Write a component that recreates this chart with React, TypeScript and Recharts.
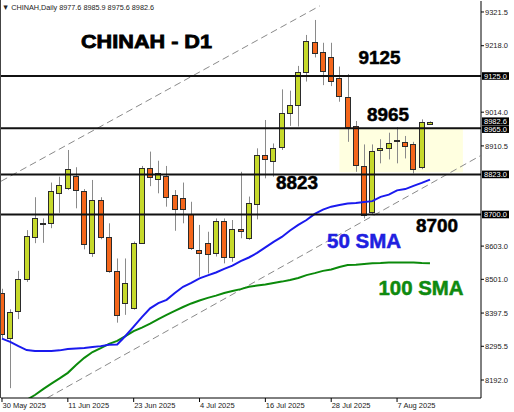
import React from 'react';
import { ComposedChart, Bar, Line, XAxis, YAxis, ReferenceLine, ReferenceArea } from 'recharts';

// daily OHLC, 30 May 2025 .. 13 Aug 2025
const opens = [8460, 8320, 8405, 8503, 8631, 8673, 8673, 8767, 8780, 8819, 8772, 8581, 8745, 8632, 8527, 8429, 8412, 8613, 8842, 8808, 8818, 8760, 8750, 8701, 8591, 8612, 8583, 8680, 8571, 8656, 8627, 8732, 8883, 8865, 8908, 9011, 9036, 9138, 9228, 9198, 9184, 9118, 9062, 8972, 8849, 8709, 8898, 8905, 8926, 8923, 8916, 8845, 8977.6];
const highs = [8472, 8409, 8527, 8652, 8753, 8688, 8798, 8816, 8898, 8845, 8778, 8806, 8753, 8673, 8565, 8565, 8617, 8849, 8893, 8865, 8849, 8775, 8798, 8739, 8668, 8647, 8688, 8688, 8683, 8831, 8755, 8903, 8990, 8918, 9084, 9080, 9156, 9251, 9297, 9227, 9227, 9154, 9131, 8987, 8915, 8915, 8931, 8951, 8968, 8941, 8923, 8992, 8985.9];
const lows = [8318, 8167, 8379, 8493, 8612, 8613, 8658, 8705, 8775, 8719, 8593, 8570, 8624, 8521, 8368, 8392, 8408, 8610, 8787, 8765, 8724, 8650, 8673, 8591, 8509, 8519, 8571, 8550, 8555, 8627, 8622, 8685, 8811, 8816, 8898, 8972, 8970, 9108, 9182, 9097, 9094, 9046, 8923, 8831, 8688, 8698, 8857, 8869, 8857, 8872, 8826, 8839, 8975.6];
const closes = [8333, 8402, 8501, 8634, 8690, 8674, 8772, 8791, 8840, 8775, 8609, 8745, 8632, 8527, 8392, 8491, 8613, 8842, 8816, 8828, 8753, 8717, 8716, 8596, 8581, 8579, 8680, 8571, 8655, 8650, 8734, 8883, 8869, 8903, 9011, 9036, 9138, 9233, 9195, 9141, 9111, 9065, 8968, 8852, 8698, 8895, 8903, 8920, 8930, 8910, 8839, 8985, 8982.6];

const sma50 = [8319, 8309, 8296, 8284, 8281, 8281, 8281, 8283, 8287, 8289, 8290, 8293, 8296, 8300, 8301, 8327, 8356, 8385, 8412, 8428, 8438, 8459, 8478, 8490, 8504, 8513, 8522, 8533, 8543, 8557, 8568, 8582, 8599, 8616, 8631, 8651, 8668, 8683, 8702, 8715, 8724, 8729, 8734, 8735, 8738, 8741, 8754, 8761, 8774, 8778, 8788, 8797, 8807];
const sma100 = [8082, 8098, 8115, 8131, 8146, 8164, 8181, 8197, 8214, 8238, 8260, 8278, 8290, 8303, 8312, 8327, 8342, 8353, 8365, 8379, 8392, 8404, 8416, 8427, 8436, 8444, 8451, 8459, 8465, 8471, 8478, 8482, 8485, 8490, 8494, 8499, 8505, 8514, 8520, 8527, 8531, 8539, 8545, 8546, 8548, 8550, 8551, 8553, 8553, 8553, 8553, 8551, 8550];

const tickBars = [0, 8, 16, 24, 32, 40, 48];
const tickLabels = ['30 May 2025', '11 Jun 2025', '23 Jun 2025', '4 Jul 2025', '16 Jul 2025', '28 Jul 2025', '7 Aug 2025'];
const priceTicks = [9321.5, 9218.0, 9014.0, 8910.5, 8603.0, 8501.0, 8397.5, 8295.5, 8192.0];
const levels = [9125, 8965, 8823, 8700];
const lastPrice = 8982.6;
const zoneBars = [41, 56];
const zonePrices = [8830, 8965];
const upperChannel = [{ x: -0.12, y: 8802 }, { x: 38.6, y: 9340 }];
const lowerChannel = [{ x: 5.5, y: 8137 }, { x: 58.1, y: 8880 }];

const data = opens.map((o, i) => ({
  i,
  o,
  h: highs[i],
  l: lows[i],
  c: closes[i],
  range: [lows[i], highs[i]],
  sma50: sma50[i],
  sma100: sma100[i],
}));

const FONT = '"Liberation Sans", Arial, sans-serif';
const BULL = '#c6d92b';
const BEAR = '#f4661b';

const Candle = (props: any) => {
  const { x, y, width, height, payload } = props;
  if (!payload) return null;
  const top = Math.min(y, y + height);
  const bot = Math.max(y, y + height);
  const span = payload.h - payload.l || 1;
  const py = (v: number) => top + ((payload.h - v) / span) * (bot - top);
  const cx = Math.round(x + width / 2) + 0.5;
  const bTop = Math.round(py(Math.max(payload.o, payload.c))) + 0.5;
  const bBot = Math.max(bTop + 1, Math.round(py(Math.min(payload.o, payload.c))) + 0.5);
  const up = payload.c >= payload.o;
  return (
    <g>
      <line x1={cx} x2={cx} y1={top} y2={bot} stroke="#8a8a8a" strokeWidth={1} />
      <rect x={cx - 3} y={bTop} width={5} height={bBot - bTop} fill={up ? BULL : BEAR} stroke="#2b2b2b" strokeWidth={1} />
    </g>
  );
};

// black price box on the right axis; shift moves it up/down so stacked boxes meet edge to edge
const BoxLabel = (props: any) => {
  const { viewBox, text, shift = 0 } = props;
  if (!viewBox) return null;
  const yy = viewBox.y + shift;
  const xx = viewBox.x + viewBox.width + 1;
  return (
    <g>
      <rect x={xx} y={yy - 3.8} width={27} height={7.6} fill="#000" />
      <text x={xx + 2} y={yy + 2.7} fill="#fff" fontSize={7.5} fontFamily={FONT}>{text}</text>
    </g>
  );
};

const XTick = (props: any) => {
  const { x, y, payload } = props;
  const k = tickBars.indexOf(payload.value);
  return (
    <text x={x + 0.5} y={y} dy="0.71em" fontSize={7.5} fill="#222" fontFamily={FONT} textAnchor="start">
      {tickLabels[k]}
    </text>
  );
};

const YTick = (props: any) => {
  const { x, y, payload } = props;
  return (
    <text x={x} y={y} dy="0.355em" fontSize={7.5} fill="#222" fontFamily={FONT} textAnchor="start">
      {Number(payload.value).toFixed(1)}
    </text>
  );
};

export default function App() {
  return (
    <div style={{ position: 'fixed', left: 0, top: 0, width: 514, height: 412, background: '#fff' }}>
      <ComposedChart width={514} height={412} data={data} margin={{ top: 1, right: 0, bottom: 0, left: 1 }}>
        <XAxis
          dataKey="i"
          type="number"
          domain={[-0.12, 58.2]}
          allowDataOverflow
          ticks={tickBars}
          interval={0}
          tick={<XTick />}
          tickSize={4}
          tickMargin={0.5}
          height={14}
          stroke="#000"
          tickLine={{ stroke: '#000' }}
        />
        <YAxis
          orientation="right"
          domain={[8136.8, 9355.2]}
          allowDataOverflow
          ticks={priceTicks}
          interval={0}
          tick={<YTick />}
          tickSize={3}
          tickMargin={1}
          width={33}
          stroke="#000"
          tickLine={{ stroke: '#000' }}
        />
        <ReferenceArea x1={zoneBars[0]} x2={zoneBars[1]} y1={zonePrices[0]} y2={zonePrices[1]} fill="#ffffe0" fillOpacity={1} stroke="none" />
        <ReferenceLine segment={upperChannel} stroke="#8a8a8a" strokeDasharray="7 4" ifOverflow="hidden" />
        <ReferenceLine segment={lowerChannel} stroke="#8a8a8a" strokeDasharray="7 4" ifOverflow="hidden" />
        <Line dataKey="sma100" stroke="#0b8a0b" strokeWidth={2} dot={false} isAnimationActive={false} />
        <Line dataKey="sma50" stroke="#1a1aee" strokeWidth={2} dot={false} isAnimationActive={false} />
        <Bar dataKey="range" barSize={6} shape={<Candle />} isAnimationActive={false} />
        <ReferenceLine y={lastPrice} stroke="none" label={<BoxLabel text={lastPrice.toFixed(1)} shift={-1.2} />} />
        {levels.map((lv) => (
          <ReferenceLine key={lv} y={lv} stroke="#111" strokeWidth={2} label={<BoxLabel text={lv.toFixed(1)} shift={lv === levels[1] ? 1 : 0} />} />
        ))}
      </ComposedChart>
      <svg width={514} height={412} style={{ position: 'absolute', left: 0, top: 0, pointerEvents: 'none' }}>
        <line x1={0.5} x2={0.5} y1={0} y2={398} stroke="#444" />
        <text x={2} y={10} fontSize={8} fill="#222" fontFamily={FONT} textLength={152} lengthAdjust="spacingAndGlyphs">
          ▼ CHINAH,Daily  8977.6 8985.9 8975.6 8982.6
        </text>
        <g fontFamily={FONT} fontWeight={900} stroke="currentColor">
          <text x={81} y={47.5} fontSize={19} fill="#000" color="#000" strokeWidth={0.8} textLength={131} lengthAdjust="spacingAndGlyphs">CHINAH - D1</text>
          <text x={358.5} y={64} fontSize={18} fill="#000" color="#000" strokeWidth={0.5} textLength={42} lengthAdjust="spacingAndGlyphs">9125</text>
          <text x={367} y={120.7} fontSize={18} fill="#000" color="#000" strokeWidth={0.5} textLength={42} lengthAdjust="spacingAndGlyphs">8965</text>
          <text x={276} y={189.3} fontSize={18} fill="#000" color="#000" strokeWidth={0.5} textLength={42} lengthAdjust="spacingAndGlyphs">8823</text>
          <text x={416} y={231.7} fontSize={18} fill="#000" color="#000" strokeWidth={0.5} textLength={42} lengthAdjust="spacingAndGlyphs">8700</text>
          <text x={327} y={248.3} fontSize={20} fill="#2020e0" color="#2020e0" strokeWidth={0.5} textLength={74} lengthAdjust="spacingAndGlyphs">50 SMA</text>
          <text x={378.5} y={295} fontSize={19.5} fill="#0f8a0f" color="#0f8a0f" strokeWidth={0.5} textLength={85} lengthAdjust="spacingAndGlyphs">100 SMA</text>
        </g>
      </svg>
    </div>
  );
}
